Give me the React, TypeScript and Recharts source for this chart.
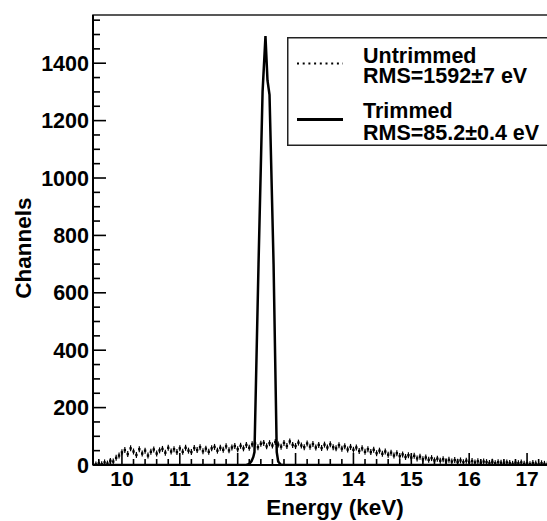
import React from 'react'
import { ComposedChart, Line, Scatter, XAxis, YAxis, ReferenceArea, Legend, Label } from 'recharts'

const FONT = '"Liberation Sans", Arial, Helvetica, sans-serif'

// untrimmed spectrum, 0.05 keV bins (bin centres)
const untrimmedEnergy = [
  9.55, 9.6, 9.65, 9.7, 9.75, 9.8, 9.85, 9.9, 9.95,
  10.0, 10.05, 10.1, 10.15, 10.2, 10.25, 10.3, 10.35, 10.4, 10.45, 10.5, 10.55, 10.6, 10.65, 10.7, 10.75, 10.8, 10.85, 10.9, 10.95,
  11.0, 11.05, 11.1, 11.15, 11.2, 11.25, 11.3, 11.35, 11.4, 11.45, 11.5, 11.55, 11.6, 11.65, 11.7, 11.75, 11.8, 11.85, 11.9, 11.95,
  12.0, 12.05, 12.1, 12.15, 12.2, 12.25, 12.3, 12.35, 12.4, 12.45, 12.5, 12.55, 12.6, 12.65, 12.7, 12.75, 12.8, 12.85, 12.9, 12.95,
  13.0, 13.05, 13.1, 13.15, 13.2, 13.25, 13.3, 13.35, 13.4, 13.45, 13.5, 13.55, 13.6, 13.65, 13.7, 13.75, 13.8, 13.85, 13.9, 13.95,
  14.0, 14.05, 14.1, 14.15, 14.2, 14.25, 14.3, 14.35, 14.4, 14.45, 14.5, 14.55, 14.6, 14.65, 14.7, 14.75, 14.8, 14.85, 14.9, 14.95,
  15.0, 15.05, 15.1, 15.15, 15.2, 15.25, 15.3, 15.35, 15.4, 15.45, 15.5, 15.55, 15.6, 15.65, 15.7, 15.75, 15.8, 15.85, 15.9, 15.95,
  16.0, 16.05, 16.1, 16.15, 16.2, 16.25, 16.3, 16.35, 16.4, 16.45, 16.5, 16.55, 16.6, 16.65, 16.7, 16.75, 16.8, 16.85, 16.9, 16.95,
  17.0, 17.05, 17.1, 17.15, 17.2, 17.25, 17.3, 17.35, 17.4, 17.45,
]
const untrimmedCounts = [
  2, 6, 3, 9, 5, 14, 12, 25, 33,
  44, 52, 38, 58, 47, 35, 55, 40, 50, 33, 46, 54, 40, 51, 56, 43, 60, 47, 55, 45,
  58, 46, 60, 50, 45, 59, 52, 62, 48, 57, 46, 58, 63, 50, 60, 53, 65, 51, 61, 66,
  55, 67, 58, 70, 60, 72, 75, 62, 74, 77, 65, 76, 68, 80, 71, 64, 77, 66, 82, 70,
  66, 78, 68, 62, 75, 64, 73, 61, 70, 59, 71, 61, 72, 62, 58, 69, 57, 65, 54, 63,
  53, 61, 49, 58, 46, 55, 45, 53, 41, 50, 39, 47, 36, 43, 33, 41, 31, 37, 28, 34,
  26, 32, 23, 29, 20, 26, 18, 24, 16, 22, 15, 20, 13, 18, 12, 17, 11, 16, 10, 15,
  10, 14, 9, 13, 8, 12, 10, 7, 11, 6, 10, 8, 5, 9, 7, 4, 8, 6, 9, 4,
  6, 3, 7, 5, 2, 6, 4, 2, 5, 2,
]

// trimmed spectrum
const trimmedEnergy = [9.5, 12.0, 12.15, 12.2, 12.24, 12.27, 12.29, 12.36, 12.43, 12.48, 12.515, 12.55, 12.62, 12.675, 12.7, 12.74, 12.78, 17.5]
const trimmedCounts = [0, 0, 0, 4, 14, 28, 45, 700, 1300, 1495, 1340, 1290, 700, 45, 12, 2, 0, 0]

const xTicks = [
  9.6, 9.8, 10, 10.2, 10.4, 10.6, 10.8, 11, 11.2, 11.4, 11.6, 11.8, 12, 12.2, 12.4, 12.6, 12.8,
  13, 13.2, 13.4, 13.6, 13.8, 14, 14.2, 14.4, 14.6, 14.8, 15, 15.2, 15.4, 15.6, 15.8,
  16, 16.2, 16.4, 16.6, 16.8, 17, 17.2, 17.4,
]
const yTicks = [
  0, 50, 100, 150, 200, 250, 300, 350, 400, 450, 500, 550, 600, 650, 700, 750,
  800, 850, 900, 950, 1000, 1050, 1100, 1150, 1200, 1250, 1300, 1350, 1400, 1450, 1500, 1550,
]

const untrimmedData = untrimmedEnergy.map((e, i) => ({ e, n: untrimmedCounts[i] }))
const trimmedData = trimmedEnergy.map((e, i) => ({ e, n: trimmedCounts[i] }))

function XTick(props: any) {
  const { x, y, payload } = props
  const v = payload.value
  const major = Math.abs(v - Math.round(v)) < 1e-6
  return (
    <g>
      <line x1={x} x2={x} y1={y} y2={y - (major ? 12 : 6)} stroke="#000" strokeWidth={1.6} />
      {major && (
        <text x={x} y={y + 21} textAnchor="middle" fontFamily={FONT} fontWeight="bold" fontSize={21} fill="#000">
          {Math.round(v)}
        </text>
      )}
    </g>
  )
}

function YTick(props: any) {
  const { x, y, payload } = props
  const v = payload.value
  const major = v % 200 === 0
  return (
    <g>
      <line x1={x} x2={x + (major ? 13 : 7)} y1={y} y2={y} stroke="#000" strokeWidth={1.6} />
      {major && (
        <text x={x - 4} y={y + 7.5} textAnchor="end" fontFamily={FONT} fontWeight="bold" fontSize={21.5} fill="#000">
          {v}
        </text>
      )}
    </g>
  )
}

const PointMark = (props: any) => {
  const { cx, cy } = props
  if (cx == null || cy == null) return null
  return (
    <g>
      <rect x={cx - 1.2} y={cy - 1.2} width={2.4} height={2.4} fill="#000" />
      <line x1={cx} x2={cx} y1={cy - 3} y2={cy + 3} stroke="#000" strokeWidth={1.2} />
    </g>
  )
}

const renderLegend = () => {
  const txt = { fontFamily: FONT, fontWeight: 'bold' as const, fontSize: 21.5, fill: '#000' }
  return (
    <svg width={300} height={110} style={{ display: 'block' }}>
      <rect x={0.75} y={0.75} width={298} height={107.5} fill="#fff" stroke="#222" strokeWidth={1.5} />
      <line x1={10} x2={56} y1={26.5} y2={26.5} stroke="#000" strokeWidth={2} strokeDasharray="2 3.7" />
      <line x1={10} x2={56} y1={82.5} y2={82.5} stroke="#000" strokeWidth={3} />
      <text x={76} y={25.5} {...txt}>Untrimmed</text>
      <text x={76} y={46} {...txt}>RMS=1592±7 eV</text>
      <text x={76} y={80.5} {...txt}>Trimmed</text>
      <text x={76} y={102.5} {...txt}>RMS=85.2±0.4 eV</text>
    </svg>
  )
}

export default function App() {
  return (
    <div style={{ position: 'absolute', left: 0, top: 0, width: 547, height: 521, overflow: 'hidden', background: '#fff' }}>
      <ComposedChart width={560} height={521} margin={{ top: 15, right: 4, bottom: 0, left: 0 }}>
        <XAxis
          type="number"
          dataKey="e"
          domain={[9.5, 17.5]}
          allowDataOverflow
          ticks={xTicks}
          interval={0}
          tickSize={0}
          tickMargin={0}
          tickLine={false}
          tick={<XTick />}
          height={56}
          axisLine={{ stroke: '#000', strokeWidth: 2 }}
        >
          <Label
            content={() => (
              <text x={335} y={515} textAnchor="middle" fontFamily={FONT} fontWeight="bold" fontSize={22.5} fill="#000">
                Energy (keV)
              </text>
            )}
          />
        </XAxis>
        <YAxis
          type="number"
          dataKey="n"
          domain={[0, 1568]}
          allowDataOverflow
          ticks={yTicks}
          interval={0}
          tickSize={0}
          tickMargin={0}
          tickLine={false}
          tick={<YTick />}
          width={93}
          axisLine={{ stroke: '#000', strokeWidth: 2 }}
        >
          <Label
            content={() => (
              <text
                x={31}
                y={248}
                transform="rotate(-90, 31, 248)"
                textAnchor="middle"
                fontFamily={FONT}
                fontWeight="bold"
                fontSize={22.5}
                fill="#000"
              >
                Channels
              </text>
            )}
          />
        </YAxis>
        <ReferenceArea x1={9.5} x2={17.5} y1={0} y2={1568} fill="none" stroke="#222" strokeWidth={1.5} />
        <Scatter name="Untrimmed" data={untrimmedData} dataKey="n" shape={<PointMark />} isAnimationActive={false} />
        <Line
          name="Trimmed"
          data={trimmedData}
          dataKey="n"
          type="linear"
          stroke="#000"
          strokeWidth={2.5}
          dot={false}
          isAnimationActive={false}
        />
        <Legend
          layout="horizontal"
          verticalAlign="middle"
          align="center"
          wrapperStyle={{ top: 37, left: 287, width: 300, height: 110 }}
          content={renderLegend}
        />
      </ComposedChart>
    </div>
  )
}
